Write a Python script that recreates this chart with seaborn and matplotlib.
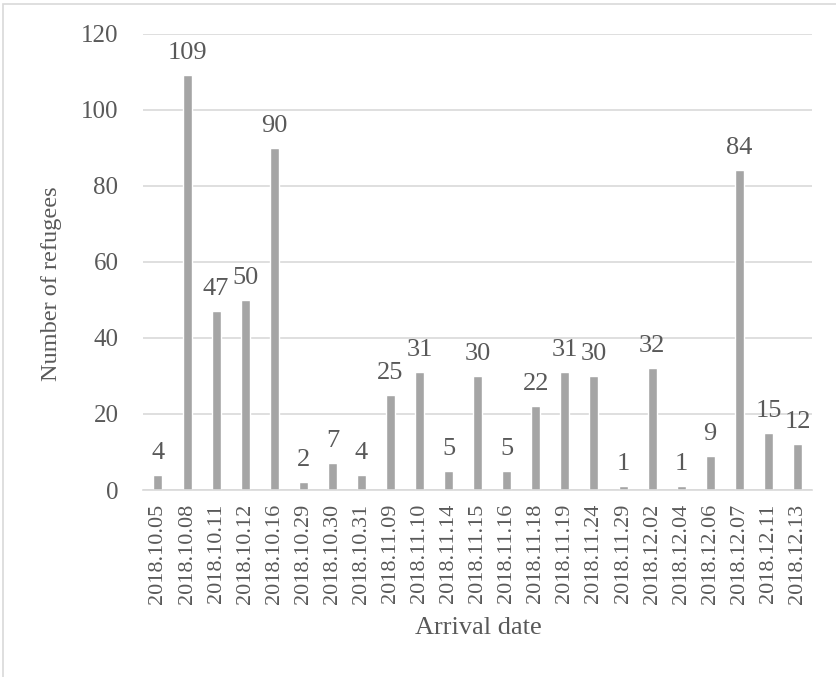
import matplotlib
matplotlib.use('Agg')
import matplotlib.pyplot as plt
import pandas as pd
import seaborn as sns
from matplotlib.patches import Rectangle

# Chart data
dates = ['2018.10.05', '2018.10.08', '2018.10.11', '2018.10.12', '2018.10.16',
         '2018.10.29', '2018.10.30', '2018.10.31', '2018.11.09', '2018.11.10',
         '2018.11.14', '2018.11.15', '2018.11.16', '2018.11.18', '2018.11.19',
         '2018.11.24', '2018.11.29', '2018.12.02', '2018.12.04', '2018.12.06',
         '2018.12.07', '2018.12.11', '2018.12.13']
refugees = [4, 109, 47, 50, 90, 2, 7, 4, 25, 31, 5, 30, 5, 22, 31, 30, 1, 32, 1, 9, 84, 15, 12]
y_ticks = [0, 20, 40, 60, 80, 100, 120]

df = pd.DataFrame({'Arrival date': dates, 'Number of refugees': refugees})

sns.set_style('white')
plt.rcParams['font.family'] = ['Liberation Serif', 'DejaVu Serif']
text_color = '#595959'
grid_color = '#D9D9D9'

fig = plt.figure(figsize=(8.37, 6.77), dpi=100)
ax = fig.add_axes([0.1714, 0.2762, 0.7987, 0.6743])

sns.barplot(data=df, x='Arrival date', y='Number of refugees', color='#A5A5A5',
            saturation=1, width=0.31, ax=ax)

# Axes styling
ax.set_ylim(0, 120)
ax.set_yticks(y_ticks)
ax.yaxis.grid(True, color=grid_color, linewidth=1.2)
ax.set_axisbelow(True)
for side in ['top', 'right', 'left']:
    ax.spines[side].set_visible(False)
ax.spines['bottom'].set_color(grid_color)
ax.spines['bottom'].set_linewidth(1.2)
ax.tick_params(axis='y', length=0, pad=18, labelsize=18, labelcolor=text_color)
ax.tick_params(axis='x', length=0, pad=10, labelsize=16, labelcolor=text_color, rotation=90)
ax.set_xlabel('')
ax.set_ylabel('')

# Data labels
ax.bar_label(ax.containers[0], padding=8, fontsize=19, color=text_color)

# Axis titles
fig.text(0.571, 1 - 628 / 677, 'Arrival date', ha='center', va='center',
         fontsize=19, color=text_color)
fig.text(52 / 837, 1 - 284 / 677, 'Number of refugees', ha='center', va='center',
         rotation=90, fontsize=17.5, color=text_color)

# Chart frame
fig.patches.append(Rectangle((3 / 837, -0.05), 1.1, 1 - 4 / 677 + 0.05,
                             transform=fig.transFigure, fill=False,
                             edgecolor=grid_color, linewidth=1.2))

fig.savefig('out.png', dpi=100)
